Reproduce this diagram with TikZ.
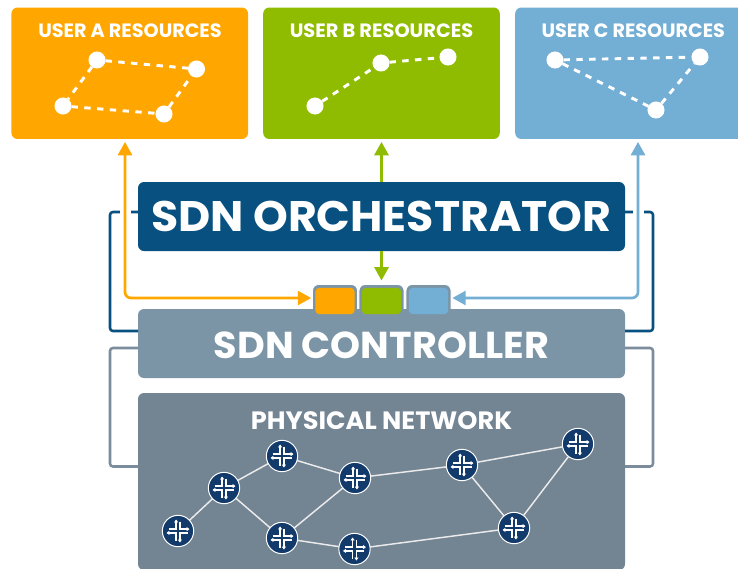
\documentclass[tikz,border=0pt]{standalone}
\usepackage{fontspec}
\usetikzlibrary{arrows.meta,calc}
\setmainfont{Poppins}
\definecolor{cA}{HTML}{FFA600}
\definecolor{cB}{HTML}{8FBC00}
\definecolor{cC}{HTML}{73AED5}
\definecolor{cOrch}{HTML}{07507F}
\definecolor{cCtrl}{HTML}{7B95A7}
\definecolor{cPhys}{HTML}{738493}
\definecolor{cLine}{HTML}{7B8C9C}
\definecolor{cRouter}{HTML}{123A6B}
\newcommand\fit[3]{\resizebox{#1pt}{#2pt}{#3}}
\tikzset{
  panel/.style={rounded corners=4.5pt,inner sep=0pt,outer sep=0pt,minimum width=365.25pt,minimum height=51.75pt},
  userbox/.style={panel,minimum width=177.4pt,minimum height=98.6pt},
  label/.style={inner sep=0pt,outer sep=0pt,text=white,font=\bfseries},
  dot/.style={circle,fill=white,inner sep=0pt,outer sep=0pt,minimum size=12.8pt},
  dash link/.style={draw=white,line width=2.2pt,dash pattern=on 4.8pt off 4.8pt},
  flow/.style={line width=2pt,rounded corners=4.5pt},
  tip both/.style={{Triangle[width=10.5pt,length=10pt]}-{Triangle[width=10.5pt,length=10pt]}},
  tip start/.style={{Triangle[width=10.5pt,length=10pt]}-},
  bracket/.style={line width=1.9pt,rounded corners=2.2pt},
  gapmark/.style={draw=white,line width=8.25pt},
  chipouter/.style={rounded corners=4.5pt,fill=cCtrl,draw=white,line width=.7pt,inner sep=0pt,outer sep=0pt,minimum width=33.8pt,minimum height=26.25pt},
  chipinner/.style={rounded corners=3pt,inner sep=0pt,outer sep=0pt,minimum width=29.5pt,minimum height=19.8pt},
  router/.style={circle,fill=cRouter,draw=white,line width=.75pt,inner sep=0pt,outer sep=0pt,minimum size=23.5pt},
  netlink/.style={draw=white!92!black,line width=1.1pt},
  routericon/.pic={
    \draw[white,line width=1.15pt,line join=miter,-{Triangle[width=3pt,length=2.2pt]}] (-9.5,-1.9)--(-1.9,-1.9)--(-1.9,-11.5);
    \draw[white,line width=1.15pt,line join=miter,-{Triangle[width=3pt,length=2.2pt]}] (1.9,-9.5)--(1.9,-1.9)--(11.5,-1.9);
    \draw[white,line width=1.15pt,line join=miter,-{Triangle[width=3pt,length=2.2pt]}] (9.5,1.9)--(1.9,1.9)--(1.9,11.5);
    \draw[white,line width=1.15pt,line join=miter,-{Triangle[width=3pt,length=2.2pt]}] (-1.9,9.5)--(-1.9,1.9)--(-11.5,1.9);
  }
}
\begin{document}
\begin{tikzpicture}[x=0.75pt,y=-0.75pt]
\clip (0,0) rectangle (738,568);
% user panels
\node[userbox,fill=cA] (userA) at (129.75,73.25) {};
\node[userbox,fill=cB] (userB) at (381.5,73.25) {};
\node[userbox,fill=cC] (userC) at (633.5,73.25) {};
\node[label] (titleA) at (130,31) {\fit{137.5}{10.3}{USER A RESOURCES}};
\node[label] (titleB) at (381.5,31) {\fit{137.5}{10.3}{USER B RESOURCES}};
\node[label] (titleC) at (633.3,31) {\fit{137.5}{10.3}{USER C RESOURCES}};
% resources
\node[dot] (a1) at (97,60) {};
\node[dot] (a2) at (196.5,69) {};
\node[dot] (a3) at (63,106) {};
\node[dot] (a4) at (164,114) {};
\draw[dash link] (a1) -- (a2);
\draw[dash link] (a1) -- (a3);
\draw[dash link] (a3) -- (a4);
\draw[dash link] (a4) -- (a2);
\node[dot] (b1) at (315,106) {};
\node[dot] (b2) at (381,63) {};
\node[dot] (b3) at (448,57) {};
\draw[dash link] (b1) -- (b2);
\draw[dash link] (b2) -- (b3);
\node[dot] (c1) at (555,60) {};
\node[dot] (c2) at (700,57) {};
\node[dot] (c3) at (656,110) {};
\draw[dash link] (c1) -- (c2);
\draw[dash link] (c1) -- (c3);
\draw[dash link] (c3) -- (c2);
% main panels
\node[panel,fill=cOrch] (orch) at (381.5,216.5) {};
\node[panel,fill=cPhys,minimum height=132.75pt] (phys) at (381.5,481.5) {};
% chips (outer, behind controller)
\node[chipouter] (chipAo) at (335,302) {};
\node[chipouter] (chipBo) at (381.5,302) {};
\node[chipouter] (chipCo) at (428.5,302) {};
\node[panel,fill=cCtrl] (ctrl) at (381.5,343.5) {};
\node[chipinner,fill=cA] (chipA) at (335,301) {};
\node[chipinner,fill=cB] (chipB) at (381.5,301) {};
\node[chipinner,fill=cC] (chipC) at (428.5,301) {};
% labels
\node[label] (orchT) at (381.3,216.5) {\fit{345}{22.8}{SDN ORCHESTRATOR}};
\node[label] (ctrlT) at (381.4,345.5) {\fit{251.3}{20}{SDN CONTROLLER}};
\node[label] (physT) at (381.5,420.5) {\fit{196}{13.4}{PHYSICAL NETWORK}};
% brackets
\coordinate (ol) at (110,212);
\coordinate (cl) at (110,331);
\coordinate (or) at (653,212);
\coordinate (cr) at (653,331);
\coordinate (gl) at (110,348);
\coordinate (pl) at (110,466.5);
\coordinate (gr) at (653,348);
\coordinate (pr) at (653,466.5);
\coordinate (aelbow) at (125,298);
\coordinate (celbow) at (638,298);
\draw[bracket,draw=cOrch] (orch.west |- ol) -- (ol) -- (cl) -- (cl -| ctrl.west);
\draw[bracket,draw=cOrch] (orch.east |- or) -- (or) -- (cr) -- (cr -| ctrl.east);
\draw[bracket,draw=cLine] (gl -| ctrl.west) -- (gl) -- (pl) -- (pl -| phys.west);
\draw[bracket,draw=cLine] (gr -| ctrl.east) -- (gr) -- (pr) -- (pr -| phys.east);
\draw[gapmark] ([yshift=5pt]ol -| aelbow) -- ([yshift=-5pt]ol -| aelbow);
\draw[gapmark] ([yshift=5pt]or -| celbow) -- ([yshift=-5pt]or -| celbow);
% flows
\draw[flow,tip both,color=cA,shorten <=2.2pt,shorten >=1pt] (userA.south -| aelbow) -- (aelbow) -- (aelbow -| chipAo.west);
\draw[flow,color=cC,tip both,shorten <=2.2pt,shorten >=1pt] (userC.south -| celbow) -- (celbow) -- (celbow -| chipCo.east);
\draw[flow,color=cB,tip start,shorten <=2.2pt] (userB.south) -- (orch.north);
\draw[flow,color=cB,-{Triangle[width=10.5pt,length=10pt]},shorten >=3pt] (orch.south) -- (orch.south |- chipBo.north);
% network
\foreach \n/\x/\y in {1/178/531,2/224/488,3/282/456,4/282/538,5/355/478,6/354.5/549,7/462/465,8/514/528,9/578/444}{
  \node[router] (r\n) at (\x,\y) {};
  \pic at (r\n) {routericon};
}
\foreach \p/\q in {1/2,2/3,2/4,3/5,4/5,4/6,5/7,6/8,7/8,7/9,8/9}{
  \draw[netlink] (r\p) -- (r\q);
}
\end{tikzpicture}
\end{document}
